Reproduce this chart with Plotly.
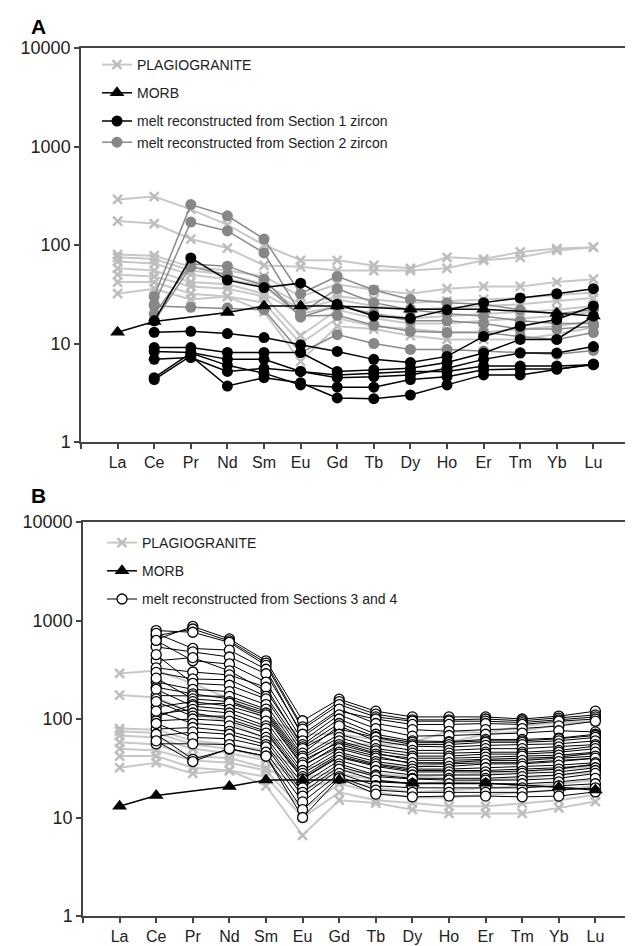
import plotly.graph_objects as go

# The page places the figure 8 px in from the top-left corner, so the figure is
# sized to end exactly at the 633x946 window edge; page pixels are converted below.
OFF = 8
W, H = 633 - OFF, 946 - OFF

categories = ["La", "Ce", "Pr", "Nd", "Sm", "Eu", "Gd", "Tb", "Dy", "Ho", "Er", "Tm", "Yb", "Lu"]
y_tick_vals = [1, 10, 100, 1000, 10000]
y_tick_text = ["1", "10", "100", "1000", "10000"]

# Plagiogranite (chondrite-normalised), shown in both panels
plagiogranite = [
    [290, 310, 230, 160, 100, 70, 70, 62, 58, 75, 72, 85, 92, 95],
    [175, 165, 115, 93, 62, 60, 55, 55, 55, 58, 70, 75, 88, 95],
    [80, 78, 60, 55, 48, 30, 40, 35, 32, 36, 38, 38, 42, 45],
    [75, 72, 55, 50, 40, 25, 30, 28, 26, 27, 28, 29, 31, 33],
    [68, 65, 50, 45, 38, 22, 28, 24, 22, 23, 24, 25, 27, 29],
    [58, 55, 42, 40, 32, 20, 24, 20, 18, 19, 20, 21, 22, 24],
    [50, 48, 38, 36, 30, 12, 22, 18, 16, 16, 17, 18, 19, 21],
    [42, 42, 32, 30, 26, 10, 18, 15, 14, 13, 13, 14, 15, 17],
    [32, 36, 28, 30, 21, 6.6, 15, 14, 12, 11, 11, 11, 12.5, 14.5],
]

# MORB (gaps where no value is plotted)
morb = [13, 16.7, None, 20.6, 24, 24, 24, None, 22.3, None, 22.3, None, 20.3, 19]

# Panel A: melt reconstructed from Section 1 zircon
section1 = [
    [None, 17, 74, 44, 37, 41, 25, 19, 18, 22, 26, 29, 32, 36],
    [None, 13, 13.3, 12.6, 11.5, 9.7, 8.3, 6.9, 6.4, 7.4, 11.8, 15, 17.5, 24],
    [None, 9.1, 9.1, 8.1, 8.1, 8.1, 5.2, 5.4, 5.6, 6.4, 8, 11, 11, 19],
    [None, 8.3, 8.1, 6.9, 6.9, 5.2, 4.5, 4.6, 4.8, 5.6, 6.9, 8, 8, 9.3],
    [None, 6.9, 7.2, 5.2, 5.6, 5.2, 4.8, 5.0, 5.2, 5.2, 5.9, 5.9, 5.9, 6.1],
    [None, 4.5, 8.0, 6.0, 5.0, 3.8, 3.6, 3.6, 4.3, 4.6, 5.4, 5.5, 5.5, 6.1],
    [None, 4.3, 7.5, 3.7, 4.5, 4.0, 2.8, 2.75, 3.0, 3.8, 4.8, 4.8, 5.5, 6.2],
]

# Panel A: melt reconstructed from Section 2 zircon
section2 = [
    [None, 30, 257, 198, 115, 32, 48, 35, 28, 26, 25, 22, 20, 22],
    [None, 25, 171, 139, 83, 20, 36, 26, 22, 20, 19, 17, 16, 16],
    [None, 20, 64, 61, 45, 18.5, 24, 20, 17, 17, 16, 14, 14, 15],
    [None, 17, 60, 50, 39, 19, 19.3, 15.3, 13.3, 12.9, 12.9, 11.8, 11, 12.9],
    [None, 24, 23.3, 23, 22, 8.1, 12.3, 10, 8.7, 8.7, 8.4, 8.1, 7.8, 8.5],
]

# Panel B: melt reconstructed from Sections 3 and 4
sections34 = [
    [None, 640, 870, 650, 390, 96, 159, 120, 105, 105, 105, 100, 107, 120],
    [None, 700, 820, 620, 370, 83, 150, 112, 98, 98, 100, 96, 102, 110],
    [None, 790, 760, 600, 350, 79, 140, 105, 95, 95, 95, 92, 98, 105],
    [None, 740, 520, 500, 320, 66, 120, 100, 88, 88, 90, 88, 95, 100],
    [None, 540, 480, 426, 288, 70, 126, 90, 78, 75, 78, 80, 85, 95],
    [None, 627, 390, 362, 237, 60, 110, 80, 67, 68, 70, 72, 76, 74],
    [None, 390, 420, 308, 192, 55, 100, 70, 60, 59, 62, 62, 64, 70],
    [None, 330, 300, 280, 210, 52, 90, 66, 58, 58, 60, 60, 63, 68],
    [None, 297, 255, 250, 170, 50, 79, 65, 55, 55, 58, 58, 60, 65],
    [None, 450, 230, 220, 160, 45, 85, 60, 53, 52, 54, 55, 56, 60],
    [None, 238, 200, 190, 140, 42, 70, 55, 48, 48, 50, 50, 52, 55],
    [None, 210, 180, 160, 120, 38, 58, 45, 38, 38, 39, 40, 41, 45],
    [None, 173, 172, 170, 126, 40, 65, 50, 45, 45, 46, 46, 48, 53],
    [None, 260, 160, 150, 115, 36, 60, 47.5, 42, 42, 44, 44, 46, 50],
    [None, 132, 150, 135, 105, 33, 55, 44, 40, 40, 41, 42, 43, 46],
    [None, 105, 140, 145, 110, 34, 52, 42, 35, 35, 36, 36, 38, 40],
    [None, 200, 135, 125, 95, 30, 50, 40, 36, 36, 38, 38, 40, 42],
    [None, 112, 125, 115, 85, 28, 46, 37, 33, 33, 35, 35, 37, 40],
    [None, 160, 115, 100, 75, 25, 42, 34, 30, 30, 30, 31, 32, 34],
    [None, 150, 107, 107, 80, 26, 44, 35, 31, 31, 32, 33, 34, 36],
    [None, 96, 100, 95, 72, 24.6, 41, 33, 29, 29, 29, 29.6, 31, 35],
    [None, 120, 90, 85, 65, 22, 38, 30, 27, 27, 27, 28, 29, 32],
    [None, 79, 82, 75, 60, 20, 35, 27, 25, 25, 25, 26, 27, 30],
    [None, 67, 74, 70, 55, 18, 33, 26, 24.6, 24, 24, 24, 25, 28],
    [None, 90, 65, 63, 52, 16.5, 31, 24, 22, 22, 22, 22, 23, 25],
    [None, 56, 56, 55, 46, 14.4, 28, 21, 20, 20, 20, 20, 21, 22],
    [None, 70, 39, 49.6, 42, 12, 26, 19, 18, 18, 18, 18, 19, 20],
    [None, 60, 37, 50, 42, 10, 25, 17.3, 16.2, 16.5, 16.5, 16.2, 16.5, 18.2],
]

FONT = "Liberation Sans, Arial, sans-serif"
TXT = "#222222"
AX = "#444444"


def fx(px):
    """page x pixel -> paper fraction"""
    return (px - OFF) / W


def fy(py):
    """page y pixel (from top) -> paper fraction"""
    return 1 - (py - OFF) / H


def flatten(samples):
    xs, ys = [], []
    for s in samples:
        for i, v in enumerate(s):
            xs.append(i)
            ys.append(v)
        xs.append(None)
        ys.append(None)
    return xs, ys


idx = list(range(len(categories)))
fig = go.Figure()


def plag_trace(xa, ya, leg):
    px_, py_ = flatten(plagiogranite)
    return go.Scatter(
        x=px_, y=py_, xaxis=xa, yaxis=ya, legend=leg, mode="lines+markers",
        name="PLAGIOGRANITE", legendgroup=leg + "p", legendrank=1,
        line=dict(color="#c8c8c8", width=2),
        marker=dict(symbol="x-thin", size=9, line=dict(color="#bdbdbd", width=2.5)),
        connectgaps=False)


def morb_trace(xa, ya, leg):
    return go.Scatter(
        x=idx, y=morb, xaxis=xa, yaxis=ya, legend=leg, mode="lines+markers",
        name="MORB", legendgroup=leg + "m", legendrank=2,
        line=dict(color="black", width=1.5),
        marker=dict(symbol="triangle-up", size=13, color="black"),
        connectgaps=True)


def melt_trace(xa, ya, leg, name, data, rank, line, lw, size, fill, edge, ew):
    mx, my = flatten(data)
    return go.Scatter(
        x=mx, y=my, xaxis=xa, yaxis=ya, legend=leg, mode="lines+markers",
        name=name, legendgroup=leg + "z", legendrank=rank,
        line=dict(color=line, width=lw),
        marker=dict(symbol="circle", size=size, color=fill,
                    line=dict(color=edge, width=ew)),
        connectgaps=False)


# Panel A (draw order: plagiogranite, Section 2, Section 1, MORB)
fig.add_trace(plag_trace("x", "y", "legend"))
fig.add_trace(melt_trace("x", "y", "legend", "melt reconstructed from Section 2 zircon",
                         section2, 4, "#8a8a8a", 1.5, 11, "#878787", "#878787", 0))
fig.add_trace(melt_trace("x", "y", "legend", "melt reconstructed from Section 1 zircon",
                         section1, 3, "black", 1.5, 11, "black", "black", 0))
fig.add_trace(morb_trace("x", "y", "legend"))

# Panel B
fig.add_trace(plag_trace("x2", "y2", "legend2"))
fig.add_trace(melt_trace("x2", "y2", "legend2", "melt reconstructed from Sections 3 and 4",
                         sections34, 3, "black", 1, 10, "white", "black", 1.3))
fig.add_trace(morb_trace("x2", "y2", "legend2"))

xax = dict(
    range=[-1, 14], tickmode="array", tickvals=list(range(-1, 15)),
    ticktext=[""] + categories + [""], ticks="outside", ticklen=5, tickwidth=1.5,
    tickcolor=AX, showline=True, linecolor=AX, linewidth=1.5, mirror=True,
    showgrid=False, zeroline=False, automargin=False,
    tickfont=dict(family=FONT, size=16, color=TXT),
)
yax = dict(
    type="log", range=[0, 4], tickmode="array", tickvals=y_tick_vals,
    ticktext=y_tick_text, ticks="outside", ticklen=5, tickwidth=1.5, tickcolor=AX,
    showline=True, linecolor=AX, linewidth=1.5, mirror=True, showgrid=False,
    zeroline=False, automargin=False,
    tickfont=dict(family=FONT, size=18, color=TXT),
)

leg_common = dict(
    xanchor="left", yanchor="top", bgcolor="rgba(0,0,0,0)", borderwidth=0,
    font=dict(family=FONT, size=14, color=TXT), traceorder="grouped",
    tracegroupgap=7, itemwidth=30, itemclick=False, itemdoubleclick=False,
)

fig.update_layout(
    width=W, height=H, margin=dict(l=0, r=0, t=0, b=0, pad=0, autoexpand=False),
    paper_bgcolor="white", plot_bgcolor="white",
    xaxis=dict(xax, domain=[fx(81), fx(630)], anchor="y"),
    yaxis=dict(yax, domain=[fy(442), fy(48)], anchor="x"),
    xaxis2=dict(xax, domain=[fx(83), min(1.0, fx(632))], anchor="y2"),
    yaxis2=dict(yax, domain=[fy(916), fy(522)], anchor="x2"),
    legend=dict(leg_common, x=fx(97), y=fy(49)),
    legend2=dict(leg_common, x=fx(102), y=fy(527)),
    annotations=[
        dict(text="<b>A</b>", x=fx(38), y=fy(26), xref="paper", yref="paper",
             xanchor="center", yanchor="middle", showarrow=False,
             font=dict(family=FONT, size=21, color="black")),
        dict(text="<b>B</b>", x=fx(38), y=fy(495), xref="paper", yref="paper",
             xanchor="center", yanchor="middle", showarrow=False,
             font=dict(family=FONT, size=21, color="black")),
    ],
    showlegend=True,
)

fig.write_html("out.html")
